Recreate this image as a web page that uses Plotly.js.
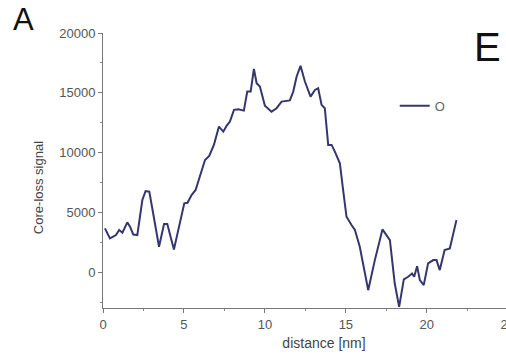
<!DOCTYPE html>
<html>
<head>
<meta charset="utf-8">
<script src="https://cdn.plot.ly/plotly-3.0.1.min.js"></script>
<style>
  html, body { margin: 0; padding: 0; overflow: hidden; background: #ffffff; }
  #chart { width: 560px; height: 356px; }
</style>
</head>
<body>
<div id="chart"></div>
<script>
// distance [nm]
const distance = [0.12, 0.43, 0.8, 1.0, 1.2, 1.5, 1.67, 1.87, 2.12, 2.43, 2.63, 2.86, 3.1, 3.46, 3.77, 3.97,
  4.38, 4.71, 5.02, 5.22, 5.47, 5.72, 5.99, 6.3, 6.56, 6.85, 7.16, 7.43, 7.63, 7.84, 8.09, 8.36, 8.7,
  8.91, 9.12, 9.32, 9.49, 9.69, 10.0, 10.41, 10.72, 11.03, 11.54, 11.75, 11.96, 12.2, 12.47, 12.82,
  13.09, 13.29, 13.5, 13.7, 13.91, 14.12, 14.32, 14.63, 14.83, 15.04, 15.35, 15.56, 15.86, 16.38,
  16.79, 17.26, 17.72, 18.02, 18.29, 18.58, 18.85, 19.09, 19.22, 19.4, 19.57, 19.81, 20.08, 20.4,
  20.6, 20.8, 21.1, 21.42, 21.83];
// Core-loss signal for O
const signalO = [3660, 2820, 3100, 3520, 3300, 4160, 3800, 3150, 3100, 6030, 6780, 6730, 4900, 2120, 4020, 4020,
  1900, 3800, 5750, 5800, 6450, 6870, 7980, 9380, 9715, 10640, 12170, 11750, 12230, 12590, 13570, 13630, 13510,
  15100, 15100, 17000, 15800, 15520, 13920, 13420, 13710, 14260, 14360, 15100, 16360, 17250, 15940, 14680,
  15240, 15380, 13990, 13710, 10640, 10640, 10080, 9100, 6870, 4630, 3940, 3520, 2120, -1510,
  1005, 3575, 2680, -950, -2900, -610, -390, -110, -390, 500, -670, -1090, 730, 1005,
  1005, 170, 1840, 1985, 4350];
const seriesName = 'O';
const xTicks = [0, 5, 10, 15, 20, 25];
const yTicks = [0, 5000, 10000, 15000, 20000];

const tickFont = {family: 'Liberation Sans, Arial, sans-serif', size: 13, color: '#555555'};

const trace = {
  x: distance, y: signalO, name: seriesName, type: 'scatter', mode: 'lines',
  line: {color: '#36366f', width: 2}
};

const layout = {
  width: 560, height: 356,
  margin: {l: 103, r: 15, t: 33, b: 48},
  paper_bgcolor: '#ffffff', plot_bgcolor: '#ffffff',
  showlegend: true,
  legend: {x: 0.66, y: 0.735, xanchor: 'left', yanchor: 'middle', bgcolor: 'rgba(0,0,0,0)',
           font: {family: 'Liberation Sans, Arial, sans-serif', size: 13, color: '#666666'}},
  xaxis: {
    range: [0, 27.3], tickvals: xTicks, ticktext: xTicks.map(String),
    showgrid: false, zeroline: false, showline: true, linecolor: '#777777', linewidth: 1,
    ticks: 'outside', ticklen: 4, tickcolor: '#777777',
    minor: {dtick: 2.5, tick0: 0, ticks: 'outside', ticklen: 2, tickcolor: '#888888'},
    tickfont: tickFont,
    title: {text: 'distance [nm]', standoff: 7,
            font: {family: 'Liberation Sans, Arial, sans-serif', size: 14, color: '#444444'}}
  },
  yaxis: {
    range: [-3000, 20000], tickvals: yTicks, ticktext: yTicks.map(String),
    showgrid: false, zeroline: false, showline: true, linecolor: '#777777', linewidth: 1,
    ticks: 'outside', ticklen: 4, tickcolor: '#777777',
    minor: {dtick: 2500, tick0: 0, ticks: 'outside', ticklen: 2, tickcolor: '#888888'},
    tickfont: tickFont
  },
  annotations: [
    {text: 'Core-loss signal', xref: 'paper', yref: 'paper', x: -0.147, y: 0.436,
     textangle: -90, showarrow: false, xanchor: 'center', yanchor: 'middle',
     font: {family: 'Liberation Sans, Arial, sans-serif', size: 13, color: '#444444'}},
    {text: 'A', xref: 'paper', yref: 'paper', x: -0.179, y: 1.048, showarrow: false,
     xanchor: 'center', yanchor: 'middle',
     font: {family: 'Liberation Sans, Arial, sans-serif', size: 31, color: '#111111'}},
    {text: 'E', xref: 'paper', yref: 'paper', x: 0.869, y: 0.949, showarrow: false,
     xanchor: 'center', yanchor: 'middle',
     font: {family: 'Liberation Sans, Arial, sans-serif', size: 40, color: '#111111'}}
  ]
};

Plotly.newPlot('chart', [trace], layout, {displayModeBar: false, staticPlot: true});
</script>
</body>
</html>
